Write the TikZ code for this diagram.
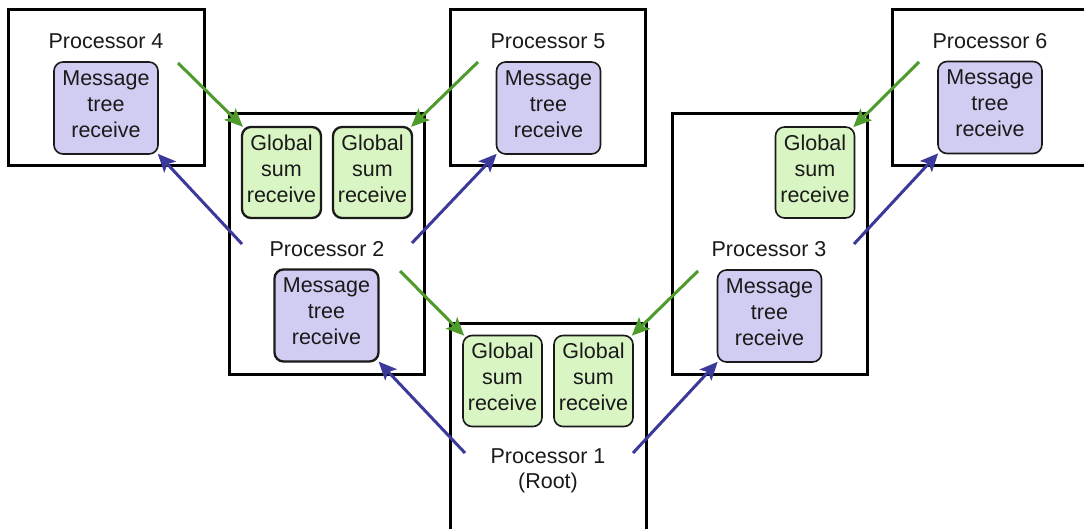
\documentclass[tikz,border=0pt]{standalone}
\usepackage{fontspec}
\setmainfont{Liberation Sans}
\usetikzlibrary{arrows.meta}

\definecolor{txt}{HTML}{1A1A1A}
\definecolor{gsfill}{HTML}{D9F5C3}
\definecolor{mtfill}{HTML}{D1CCF1}
\definecolor{sumline}{HTML}{4E9B2B}
\definecolor{treeline}{HTML}{3B3A9B}

\tikzset{
  proc/.style={draw=black, line width=3pt},
  inner/.style={draw=txt, rounded corners=9pt, align=center, inner sep=0pt,
    text=txt, font=\fontsize{21.5}{26}\selectfont,
    execute at end node={\rule[-8pt]{0pt}{8pt}}},
  gsum/.style={inner, fill=gsfill, minimum width=79pt, minimum height=91pt},
  mtree/.style={inner, fill=mtfill, minimum width=104pt, minimum height=92pt},
  thin/.style={line width=1.6pt},
  thick/.style={line width=2.3pt},
  plabel/.style={text=txt, inner sep=0pt, anchor=base, align=center,
    font=\fontsize{21.5}{25}\selectfont},
  tip/.style={-{Stealth[length=18pt,width=16pt,inset=4pt]}, line width=3pt},
  sumarrow/.style={tip, draw=sumline, fill=sumline},
  treearrow/.style={tip, draw=treeline, fill=treeline},
}

\begin{document}
\begin{tikzpicture}[x=1pt, y=-1pt]
\useasboundingbox (0,0) rectangle (1084,529);
\clip (0,0) rectangle (1084,529);
\fill[white] (0,0) rectangle (1084,529);

% processor frames
\draw[proc] (8,10) rectangle (204,166);
\draw[proc] (450,10) rectangle (645,166);
\draw[proc] (892,10) rectangle (1100,166);
\draw[proc] (229,114) rectangle (424,374);
\draw[proc] (672,114) rectangle (867,374);
\draw[proc] (450,323) rectangle (646,560);

% processor labels
\node[plabel] (l4) at (106,49) {Processor 4};
\node[plabel] (l5) at (548,49) {Processor 5};
\node[plabel] (l6) at (990,49) {Processor 6};
\node[plabel] (l2) at (327,257) {Processor 2};
\node[plabel] (l3) at (769,257) {Processor 3};
\node[plabel, anchor=center] (l1) at (548,471) {Processor 1\\(Root)};

% message tree receive boxes
\node[mtree, thin]  (m4) at (106,108)   {Message\\tree\\receive};
\node[mtree, thin]  (m5) at (548.5,108) {Message\\tree\\receive};
\node[mtree, thin]  (m6) at (990,107.5) {Message\\tree\\receive};
\node[mtree, thick] (m2) at (326.5,315.5) {Message\\tree\\receive};
\node[mtree, thin]  (m3) at (769.5,316) {Message\\tree\\receive};

% global sum receive boxes
\node[gsum, thick] (g2a) at (281.5,172.5) {Global\\sum\\receive};
\node[gsum, thick] (g2b) at (372.5,172.5) {Global\\sum\\receive};
\node[gsum, thin]  (g3)  at (815,172.5)   {Global\\sum\\receive};
\node[gsum, thin]  (g1a) at (502.5,381)   {Global\\sum\\receive};
\node[gsum, thin]  (g1b) at (593.5,381)   {Global\\sum\\receive};

% free ends of the connectors
\coordinate (s4) at (178,63);
\coordinate (s5) at (478,62);
\coordinate (s6) at (919,62);
\coordinate (s2) at (400,271);
\coordinate (s3) at (698,271);
\coordinate (t2l) at (242,244);
\coordinate (t2r) at (412,243);
\coordinate (t3) at (854,244);
\coordinate (t1l) at (465,453);
\coordinate (t1r) at (633,453);

% global sum messages
\draw[sumarrow] (s4) -- ([shift={(2,1)}]g2a.north west);
\draw[sumarrow] (s5) -- ([shift={(-2,1)}]g2b.north east);
\draw[sumarrow] (s6) -- ([shift={(-2,1)}]g3.north east);
\draw[sumarrow] (s2) -- ([shift={(2,1)}]g1a.north west);
\draw[sumarrow] (s3) -- ([shift={(-2,1)}]g1b.north east);

% message tree messages
\draw[treearrow] (t2l) -- ([shift={(-1,-1)}]m4.south east);
\draw[treearrow] (t2r) -- ([shift={(1,-1)}]m5.south west);
\draw[treearrow] (t3)  -- ([shift={(1,-1)}]m6.south west);
\draw[treearrow] (t1l) -- ([shift={(-1,-1)}]m2.south east);
\draw[treearrow] (t1r) -- ([shift={(1,-1)}]m3.south west);
\end{tikzpicture}
\end{document}
